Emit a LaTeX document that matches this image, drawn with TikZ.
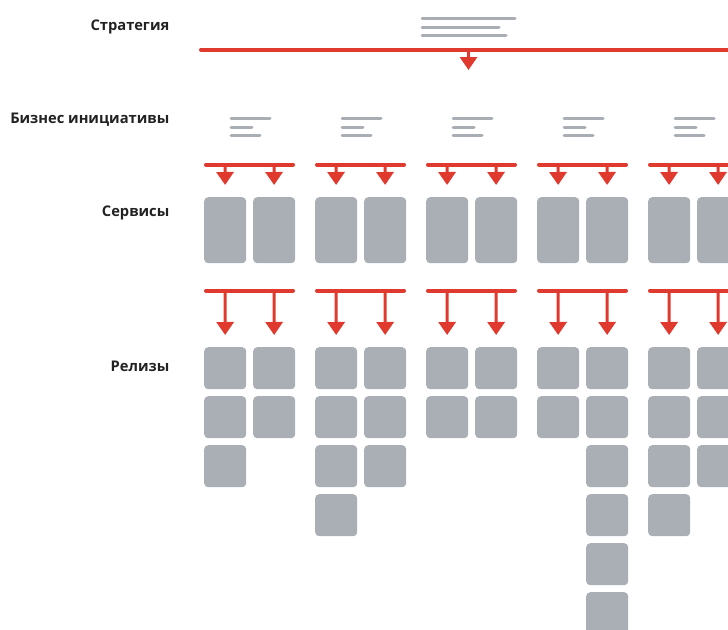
\documentclass[tikz,border=0pt]{standalone}
\usepackage{fontspec}
\setmainfont{Open Sans}
\usetikzlibrary{arrows.meta}
\definecolor{redc}{HTML}{E0392E}
\definecolor{boxc}{HTML}{AAAEB5}
\definecolor{linec}{HTML}{A9ADB4}
\definecolor{textc}{HTML}{222222}
\tikzset{
  lbl/.style={anchor=base east, inner sep=0pt, font=\fontsize{14.7}{17}\selectfont\bfseries, text=textc},
  bar/.style={draw=redc, line width=4pt, line cap=round},
  gline/.style={draw=linec, line width=3pt, line cap=round},
  arr/.style={draw=redc, line width=3pt, -{Triangle[width=17pt,length=13pt]}, shorten >=12pt},
  svcbox/.style={rectangle, rounded corners=4pt, fill=boxc, draw=none, minimum width=42pt, minimum height=66pt, inner sep=0pt, anchor=north west},
  relbox/.style={rectangle, rounded corners=4pt, fill=boxc, draw=none, minimum width=42pt, minimum height=42pt, inner sep=0pt, anchor=north west},
}
\begin{document}
\begin{tikzpicture}[x=1pt,y=-1pt]
\useasboundingbox (0,0) rectangle (728,629);
\clip (0,0) rectangle (728,629);
% labels
\node[lbl] (lstrat) at (169.5,30) {Стратегия};
\node[lbl] (lbiz) at (169.5,123.3) {Бизнес инициативы};
\node[lbl] (lsvc) at (169.5,216.5) {Сервисы};
\node[lbl] (lrel) at (169.5,371.5) {Релизы};
% strategy
\draw[gline] (422,18.5) -- (515,18.5);
\draw[gline] (422,27) -- (499,27);
\draw[gline] (422,35) -- (506,35);
\coordinate (sl) at (201,49.5);
\coordinate (sr) at (740,49.5);
\draw[bar] (sl) -- (sr);
\coordinate (stop) at (468.5,49.5);
\coordinate (send) at (468.5,82);
\draw[arr] (stop) -- (send);
% groups
\foreach \g/\na/\nb in {1/3/2, 2/4/3, 3/2/2, 4/2/6, 5/4/3}{
  \pgfmathsetmacro{\xa}{204+111*(\g-1)}
  \pgfmathsetmacro{\xb}{\xa+49}
  \pgfmathsetmacro{\xl}{\xa+27}
  % initiative text icon
  \draw[gline] (\xl,118.5) -- ++(39,0);
  \draw[gline] (\xl,127) -- ++(21,0);
  \draw[gline] (\xl,135.5) -- ++(29,0);
  % service bar
  \coordinate (b\g l) at (\xa+2,164.5);
  \coordinate (b\g r) at (\xa+89,164.5);
  \draw[bar] (b\g l) -- (b\g r);
  \coordinate (b\g a) at (\xa+21,164.5);
  \coordinate (b\g b) at (\xb+21,164.5);
  \node[svcbox] (s\g a) at (\xa,197) {};
  \node[svcbox] (s\g b) at (\xb,197) {};
  \draw[arr] (b\g a) -- (s\g a.north);
  \draw[arr] (b\g b) -- (s\g b.north);
  % release bar
  \coordinate (c\g l) at (\xa+2,290.5);
  \coordinate (c\g r) at (\xa+89,290.5);
  \draw[bar] (c\g l) -- (c\g r);
  \coordinate (c\g a) at (\xa+21,290.5);
  \coordinate (c\g b) at (\xb+21,290.5);
  \foreach \k in {1,...,\na}{
    \node[relbox] (r\g a\k) at (\xa,347+49*\k-49) {};
  }
  \foreach \k in {1,...,\nb}{
    \node[relbox] (r\g b\k) at (\xb,347+49*\k-49) {};
  }
  \draw[arr] (c\g a) -- (r\g a1.north);
  \draw[arr] (c\g b) -- (r\g b1.north);
}
\end{tikzpicture}
\end{document}
